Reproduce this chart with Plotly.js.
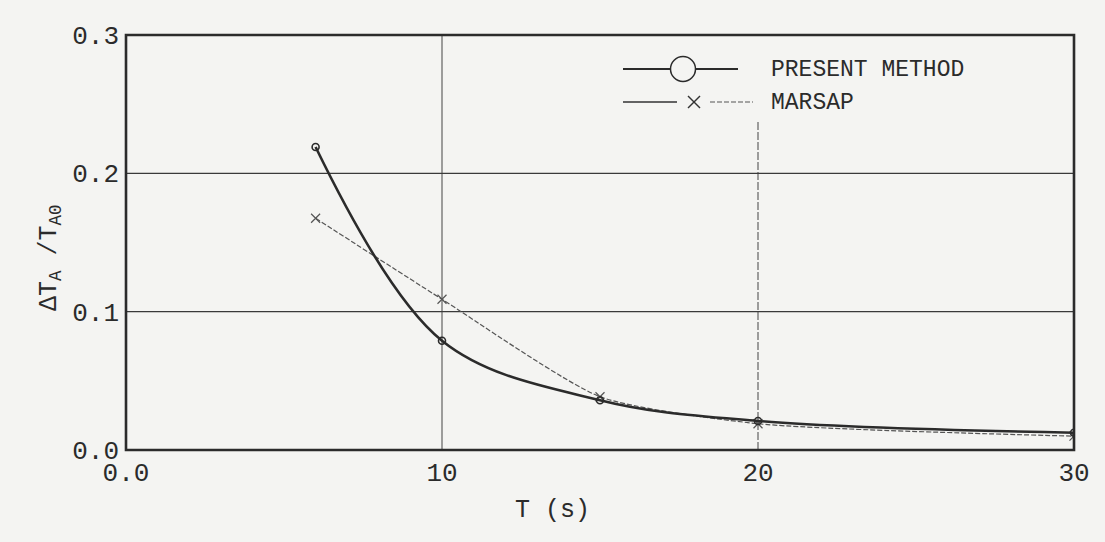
<!DOCTYPE html>
<html>
<head>
<meta charset="utf-8">
<script src="https://cdn.plot.ly/plotly-3.0.1.min.js"></script>
<style>html,body{margin:0;padding:0;background:#f4f4f2;}#chart{width:1105px;height:542px;}</style>
</head>
<body>
<div id="chart"></div>
<script>
// Data
const periods = [6, 10, 15, 20, 30];
const presentMethod = [0.219, 0.079, 0.036, 0.021, 0.0125];
const marsap = [0.1675, 0.109, 0.0385, 0.019, 0.010];
const xTickVals = [0, 10, 20, 30];
const xTickText = ['0.0', '10', '20', '30'];
const yTickVals = [0, 0.1, 0.2, 0.3];
const yTickText = ['0.0', '0.1', '0.2', '0.3'];
const seriesNames = ['PRESENT METHOD', 'MARSAP'];

const ink = '#2b2b2b';
const mono = '"Liberation Mono", "DejaVu Sans Mono", monospace';

const traces = [
  {
    x: periods, y: marsap, type: 'scatter', mode: 'lines+markers', name: seriesNames[1],
    line: {color: '#555', width: 1.2, dash: '5px,2px', shape: 'spline', smoothing: 0.6},
    marker: {symbol: 'x-thin-open', size: 9, line: {color: '#444', width: 1.2}},
    showlegend: false
  },
  {
    x: periods, y: presentMethod, type: 'scatter', mode: 'lines+markers', name: seriesNames[0],
    line: {color: ink, width: 2.6, shape: 'spline', smoothing: 1},
    marker: {symbol: 'circle-open', size: 7, color: ink, line: {color: ink, width: 1.6}},
    showlegend: false
  }
];

// helpers for pixel -> paper conversion of decorative legend
const L = 126, R = 1074, T = 35, B = 450;
const px = v => (v - L) / (R - L);
const py = v => (B - v) / (B - T);

const shapes = [
  // gridlines
  {type: 'line', xref: 'x', yref: 'paper', x0: 10, x1: 10, y0: 0, y1: 1, line: {color: '#444', width: 1}, layer: 'below'},
  {type: 'line', xref: 'x', yref: 'paper', x0: 20, x1: 20, y0: 0, y1: py(120), line: {color: '#444', width: 1, dash: '8px,2px'}, layer: 'below'},
  {type: 'line', xref: 'paper', yref: 'y', x0: 0, x1: 1, y0: 0.1, y1: 0.1, line: {color: '#3a3a3a', width: 1.2}, layer: 'below'},
  {type: 'line', xref: 'paper', yref: 'y', x0: 0, x1: 1, y0: 0.2, y1: 0.2, line: {color: '#3a3a3a', width: 1.2}, layer: 'below'},
  // frame
  {type: 'rect', xref: 'paper', yref: 'paper', x0: 0, x1: 1, y0: 0, y1: 1, line: {color: ink, width: 2.6}},
  // legend row 1
  {type: 'line', xref: 'paper', yref: 'paper', x0: px(623), x1: px(670), y0: py(69), y1: py(69), line: {color: ink, width: 2}},
  {type: 'line', xref: 'paper', yref: 'paper', x0: px(696), x1: px(738), y0: py(69), y1: py(69), line: {color: ink, width: 2}},
  {type: 'circle', xref: 'paper', yref: 'paper', x0: px(670.5), x1: px(695.5), y0: py(81.5), y1: py(56.5), line: {color: ink, width: 1.5}, fillcolor: 'rgba(0,0,0,0)'},
  // legend row 2
  {type: 'line', xref: 'paper', yref: 'paper', x0: px(623), x1: px(677), y0: py(102), y1: py(102), line: {color: '#333', width: 1.4}},
  {type: 'line', xref: 'paper', yref: 'paper', x0: px(710), x1: px(753), y0: py(102), y1: py(102), line: {color: '#555', width: 1.2, dash: '5px,2px'}},
  {type: 'line', xref: 'paper', yref: 'paper', x0: px(688), x1: px(700), y0: py(96), y1: py(108), line: {color: '#333', width: 1.4}},
  {type: 'line', xref: 'paper', yref: 'paper', x0: px(688), x1: px(700), y0: py(108), y1: py(96), line: {color: '#333', width: 1.4}}
];

const annotations = [
  {xref: 'paper', yref: 'paper', x: px(769), y: py(70), xanchor: 'left', yanchor: 'middle', showarrow: false,
   text: seriesNames[0], font: {family: mono, size: 23, color: ink}},
  {xref: 'paper', yref: 'paper', x: px(769), y: py(103), xanchor: 'left', yanchor: 'middle', showarrow: false,
   text: seriesNames[1], font: {family: mono, size: 23, color: ink}},
  {xref: 'paper', yref: 'paper', x: px(552), y: py(510), xanchor: 'center', yanchor: 'middle', showarrow: false,
   text: 'T (s)', font: {family: mono, size: 25, color: ink}},
  {xref: 'paper', yref: 'paper', x: px(50), y: py(258), xanchor: 'center', yanchor: 'middle', showarrow: false, textangle: -90,
   text: 'ΔT<sub>A</sub> /T<sub>A0</sub>', font: {family: mono, size: 25, color: ink}}
];

const layout = {
  width: 1105, height: 542,
  margin: {l: L, r: 1105 - R, t: T, b: 542 - B},
  paper_bgcolor: '#f4f4f2', plot_bgcolor: '#f4f4f2',
  showlegend: false,
  xaxis: {
    range: [0, 30], tickmode: 'array', tickvals: xTickVals, ticktext: xTickText,
    showgrid: false, zeroline: false, showline: false, ticks: '',
    tickfont: {family: mono, size: 26, color: ink}, ticklabelstandoff: 4
  },
  yaxis: {
    range: [0, 0.3], tickmode: 'array', tickvals: yTickVals, ticktext: yTickText,
    showgrid: false, zeroline: false, showline: false, ticks: '',
    tickfont: {family: mono, size: 26, color: ink}, ticklabelstandoff: 6
  },
  shapes: shapes,
  annotations: annotations
};

Plotly.newPlot('chart', traces, layout, {staticPlot: true, displayModeBar: false});
</script>
</body>
</html>
